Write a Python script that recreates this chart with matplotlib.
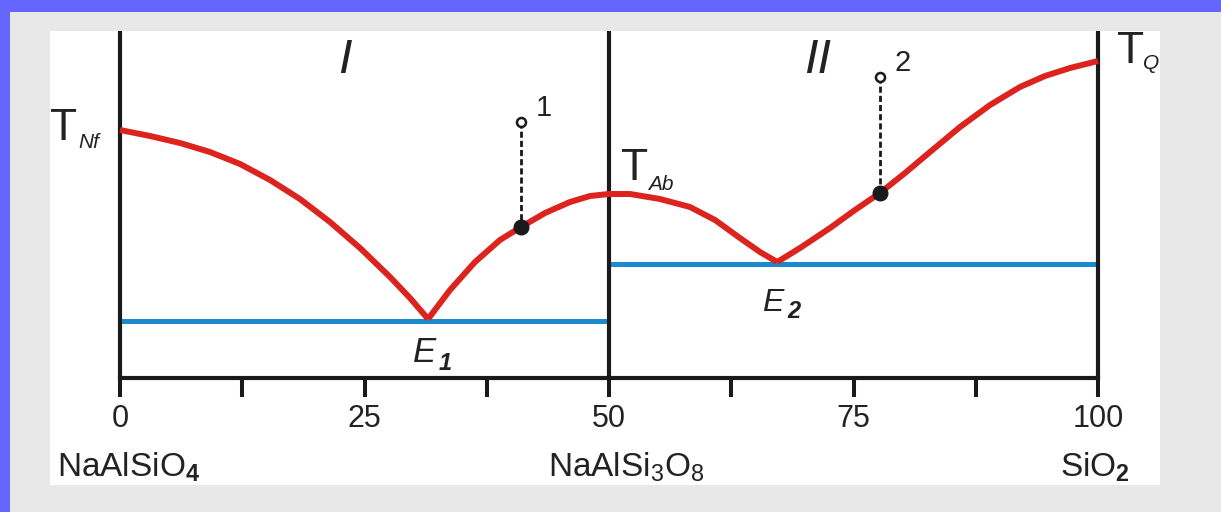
import matplotlib
matplotlib.use("Agg")
import matplotlib.pyplot as plt
from matplotlib.patches import Rectangle

plt.rcParams['font.family'] = ['Liberation Sans', 'DejaVu Sans']
plt.rcParams['mathtext.fontset'] = 'custom'
plt.rcParams['mathtext.rm'] = 'Liberation Sans'
plt.rcParams['mathtext.it'] = 'Liberation Sans:italic'
plt.rcParams['mathtext.bf'] = 'Liberation Sans:bold'

# ---- data (x: composition, y: temperature in arbitrary units) ----
liq1_x = [0, 3.07, 6.13, 9.2, 12.27, 15.34, 18.4, 21.47, 24.54, 27.61, 29.65, 31.5]
liq1_y = [248, 242, 235, 226, 214, 198, 179, 156, 130, 101, 80, 59]
liq2_x = [31.5, 33.74, 36.3, 38.85, 41.0, 43.46, 46.01, 48.06, 50.0,
          52.15, 55.21, 58.28, 60.84, 63.39, 65.44, 67.2]
liq2_y = [59, 88, 116, 138, 151, 165, 176, 182, 184,
          184, 179, 171, 158, 140, 126, 116]
liq3_x = [67.2, 69.53, 72.6, 75.15, 77.7, 80.27, 82.82, 85.89, 88.96,
          92.02, 94.58, 97.14, 100]
liq3_y = [116, 130, 150, 168, 185, 205, 226, 251, 273, 291, 302, 310, 317]

solidus1_x = [0, 50]
solidus1_y = [57, 57]
solidus2_x = [50, 100]
solidus2_y = [114, 114]

melt_x = [41.0, 77.7]          # bulk compositions of melts 1 and 2
melt_top_y = [256, 301]        # starting temperatures
melt_liq_y = [151, 185]        # liquidus temperatures
melt_labels = ['1', '2']

boundaries_x = [0, 50, 100]
tick_pos = [0, 12.5, 25, 37.5, 50, 62.5, 75, 87.5, 100]
tick_labels = ['0', '', '25', '', '50', '', '75', '', '100']

RED = '#dc231e'
BLUE = '#1b8bd0'
BLK = '#1a1a1a'
TXT = '#222222'

W, H = 1221, 512
fig = plt.figure(figsize=(W / 100, H / 100), dpi=100)
fig.patch.set_facecolor('#6666ff')
bg = Rectangle((10 / W, 0), 1 - 10 / W, (H - 12) / H,
               transform=fig.transFigure, facecolor='#e8e8e8',
               edgecolor='none', zorder=-5)
fig.add_artist(bg)

ax = fig.add_axes([50 / W, 27 / H, 1110 / W, 454 / H])
ax.set_zorder(1)
ax.set_facecolor('white')
ax.set_xlim(-7.16, 106.34)
ax.set_ylim(-107, 347)

for s in ['left', 'right', 'top']:
    ax.spines[s].set_visible(False)
ax.spines['bottom'].set_position(('data', 0))
ax.spines['bottom'].set_bounds(0, 100)
ax.spines['bottom'].set_linewidth(3)
ax.spines['bottom'].set_color(BLK)
ax.set_yticks([])
ax.set_xticks(tick_pos)
ax.set_xticklabels(tick_labels)
ax.tick_params(axis='x', direction='out', length=13.5, width=2.9, color=BLK,
               pad=5.5, labelsize=22, labelcolor=TXT)

ax.vlines(boundaries_x, 0, 347, colors=BLK, linewidth=3, zorder=3)

ax.plot(solidus1_x, solidus1_y, color=BLUE, lw=3.6, solid_capstyle='butt', zorder=2)
ax.plot(solidus2_x, solidus2_y, color=BLUE, lw=3.6, solid_capstyle='butt', zorder=2)

for xs, ys in [(liq1_x, liq1_y), (liq2_x, liq2_y), (liq3_x, liq3_y)]:
    ax.plot(xs, ys, color=RED, lw=4.3, solid_joinstyle='round',
            solid_capstyle='butt', zorder=4)

for x, yt, yl, lab in zip(melt_x, melt_top_y, melt_liq_y, melt_labels):
    ax.plot([x, x], [yt, yl], color=BLK, lw=2.0, dashes=(2.2, 1.1), zorder=5)
    ax.plot([x], [yl], 'o', color=BLK, ms=10.5, zorder=6)
    ax.plot([x], [yt], 'o', mfc='white', mec=BLK, mew=1.8, ms=6.5, zorder=6)
    ax.text(x + 1.5, yt + 6, lab, fontsize=21, color=TXT, ha='left',
            va='baseline')

# Temperature labels
ax.text(-7.2, 238, 'T', fontsize=32, color=TXT, va='baseline')
ax.text(-4.3, 230, 'Nf', fontsize=15, style='italic', color=TXT, va='baseline')
ax.text(51.2, 198, 'T', fontsize=32, color=TXT, va='baseline')
ax.text(54.0, 188, 'Ab', fontsize=15, style='italic', color=TXT, va='baseline')
ax.text(101.9, 315, 'T', fontsize=32, color=TXT, va='baseline')
ax.text(104.6, 309, 'Q', fontsize=15, style='italic', color=TXT, va='baseline')

# Field labels
ax.text(23.0, 305, 'I', fontsize=35, style='italic', color=TXT, ha='center', va='baseline')
ax.text(71.3, 305, 'II', fontsize=35, style='italic', color=TXT, ha='center', va='baseline')

# Eutectics
ax.text(30.0, 16, 'E', fontsize=25, style='italic', color=TXT, va='baseline')
ax.text(32.6, 8, '1', fontsize=17, style='italic', weight='bold', color=TXT, va='baseline')
ax.text(65.6, 67, 'E', fontsize=23, style='italic', color=TXT, va='baseline')
ax.text(68.2, 60, '2', fontsize=17, style='italic', weight='bold', color=TXT, va='baseline')

# Component labels
ax.text(-6.4, -99, r'NaAlSiO$_\mathbf{4}$', fontsize=24, color=TXT, va='baseline')
ax.text(43.8, -99, r'NaAlSi$_3$O$_8$', fontsize=24, color=TXT, va='baseline')
ax.text(96.1, -99, r'SiO$_\mathbf{2}$', fontsize=24, color=TXT, va='baseline')

fig.savefig('out.png', dpi=100, facecolor=fig.get_facecolor())
